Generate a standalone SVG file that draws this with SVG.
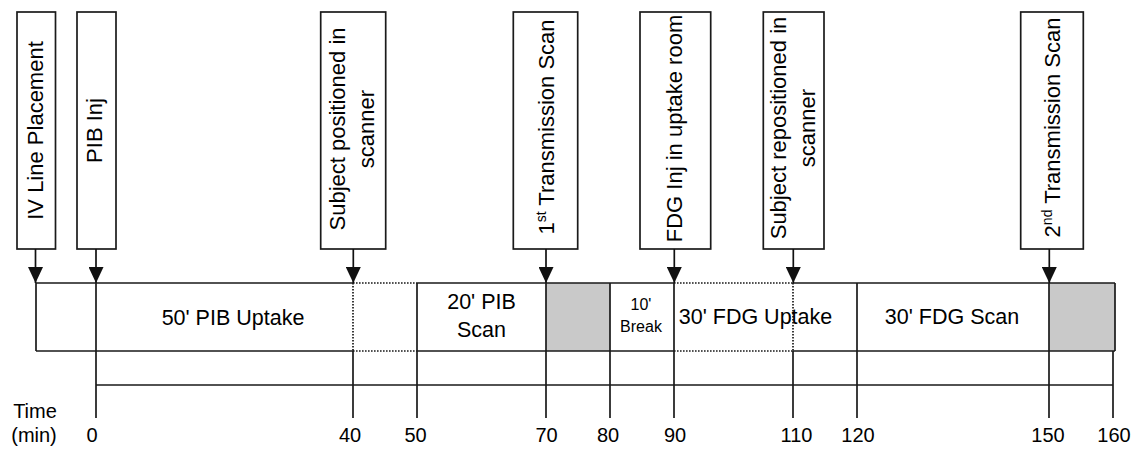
<svg xmlns="http://www.w3.org/2000/svg" width="1135" height="449" viewBox="0 0 1135 449">
<style>
.box{fill:#fff;stroke:#1a1a1a;stroke-width:1.7}
.vt{font-family:"Liberation Sans",Arial,sans-serif;font-size:22px;fill:#000;text-anchor:middle}
.ht{font-family:"Liberation Sans",Arial,sans-serif;font-size:21.5px;fill:#000;text-anchor:middle}
.sm{font-family:"Liberation Sans",Arial,sans-serif;font-size:16px;fill:#000;text-anchor:middle}
.tk{font-family:"Liberation Sans",Arial,sans-serif;font-size:20px;fill:#000;text-anchor:middle}
.ln{stroke:#1a1a1a;stroke-width:1.7;fill:none}
.dt{stroke:#1a1a1a;stroke-width:1.7;fill:none;stroke-dasharray:1.6 1.4}
.gray{fill:#c9c9c9;stroke:none}
.arr{stroke:#111;stroke-width:1.7;fill:none;marker-end:url(#ah)}
</style>
<defs>
<marker id="ah" markerUnits="userSpaceOnUse" markerWidth="16" markerHeight="15" viewBox="0 0 16 15" refX="16" refY="7.5" orient="auto">
<path d="M0,0 L16,7.5 L0,15 z" fill="#111"/>
</marker>
</defs>
<rect width="1135" height="449" fill="#fff"/>

<g id="event-iv">
<rect class="box" x="17" y="12" width="38.5" height="237"/>
<text class="vt" transform="translate(42.5,130.5) rotate(-90)">IV Line Placement</text>
</g>
<g id="event-pib-inj">
<rect class="box" x="77" y="12" width="39" height="237"/>
<text class="vt" transform="translate(102,130.5) rotate(-90)">PIB Inj</text>
</g>
<g id="event-subject-positioned">
<rect class="box" x="320.7" y="12" width="65" height="237"/>
<text class="vt" transform="translate(345,129) rotate(-90)">Subject positioned in</text>
<text class="vt" transform="translate(374,129) rotate(-90)">scanner</text>
</g>
<g id="event-1st-transmission">
<rect class="box" x="513.3" y="12" width="64.4" height="237"/>
<text class="vt" transform="translate(554,127) rotate(-90)">1<tspan font-size="14" dy="-8">st</tspan><tspan dy="8"> Transmission Scan</tspan></text>
</g>
<g id="event-fdg-inj">
<rect class="box" x="640" y="12" width="70.7" height="237"/>
<text class="vt" transform="translate(682,128.5) rotate(-90)">FDG Inj in uptake room</text>
</g>
<g id="event-subject-repositioned">
<rect class="box" x="763.3" y="12" width="60.7" height="237"/>
<text class="vt" transform="translate(786,128) rotate(-90)">Subject repositioned in</text>
<text class="vt" transform="translate(815,128) rotate(-90)">scanner</text>
</g>
<g id="event-2nd-transmission">
<rect class="box" x="1020.7" y="12" width="62.6" height="237"/>
<text class="vt" transform="translate(1060,127.5) rotate(-90)">2<tspan font-size="14" dy="-8">nd</tspan><tspan dy="8"> Transmission Scan</tspan></text>
</g>

<g id="timeline-bar">
<rect class="gray" x="546" y="283" width="64" height="68"/>
<rect class="gray" x="1049" y="283" width="66" height="68"/>
<path class="ln" d="M36,283 H353 M417,283 H674 M793,283 H1115 M36,351 H353 M417,351 H674 M793,351 H1115 M36,283 V351 M1115,283 V351 M96,283 V351 M417,283 V351 M546,283 V351 M610,283 V351 M674,283 V351 M857,283 V351 M1049,283 V351"/>
<path class="dt" d="M353,283 H417 M353,351 H417 M674,283 H793 M674,351 H793 M353,283 V351 M793,283 V351"/>
<text class="ht" x="233" y="324.5">50' PIB Uptake</text>
<text class="ht" x="481.5" y="309">20' PIB</text>
<text class="ht" x="481.5" y="336.5">Scan</text>
<text class="sm" x="641" y="310">10'</text>
<text class="sm" x="641" y="332">Break</text>
<text class="ht" x="755.5" y="323.5">30' FDG Uptake</text>
<text class="ht" x="952" y="323.5">30' FDG Scan</text>
</g>

<g id="time-axis">
<path class="ln" d="M96,385 H1113 M96,351 V418 M353,351 V418 M417,351 V418 M546,351 V418 M610,351 V418 M674,351 V418 M793,351 V418 M857,351 V418 M1049,351 V418 M1113,351 V418"/>
<text class="tk" x="35" y="418">Time</text>
<text class="tk" x="34" y="442">(min)</text>
<text class="tk" x="92" y="442">0</text>
<text class="tk" x="350" y="442">40</text>
<text class="tk" x="415.5" y="442">50</text>
<text class="tk" x="546.5" y="442">70</text>
<text class="tk" x="608" y="442">80</text>
<text class="tk" x="675" y="442">90</text>
<text class="tk" x="796.5" y="442">110</text>
<text class="tk" x="858" y="442">120</text>
<text class="tk" x="1048" y="442">150</text>
<text class="tk" x="1114" y="442">160</text>
</g>

<g id="connectors">
<line class="arr" x1="35.5" y1="249" x2="35.5" y2="283"/>
<line class="arr" x1="96" y1="249" x2="96" y2="283"/>
<line class="arr" x1="353.3" y1="249" x2="353.3" y2="283"/>
<line class="arr" x1="546" y1="249" x2="546" y2="283"/>
<line class="arr" x1="674.3" y1="249" x2="674.3" y2="283"/>
<line class="arr" x1="793.3" y1="249" x2="793.3" y2="283"/>
<line class="arr" x1="1049.3" y1="249" x2="1049.3" y2="283"/>
</g>
</svg>
